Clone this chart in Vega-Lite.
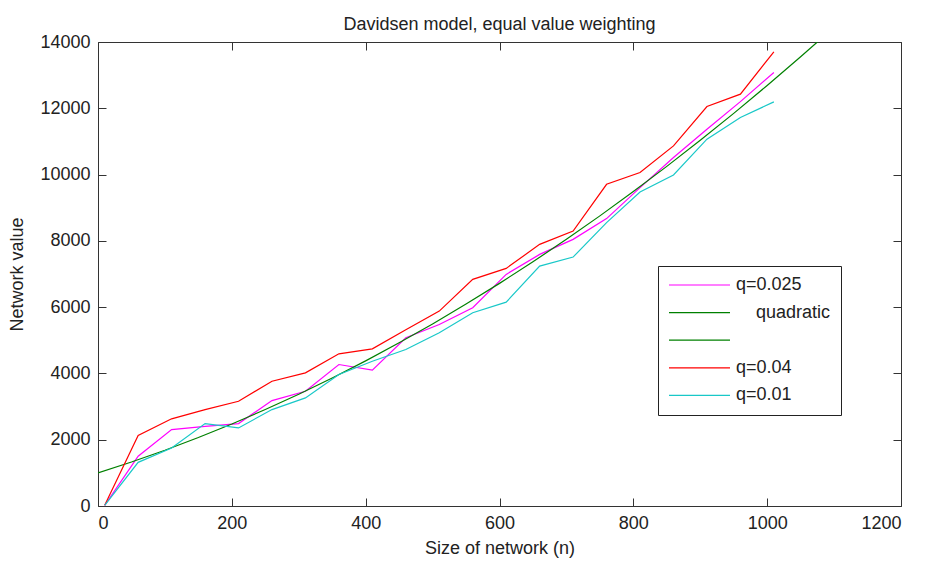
{
  "$schema": "https://vega.github.io/schema/vega-lite/v6.json",
  "width": 803,
  "height": 464,
  "autosize": {"type": "none"},
  "padding": {"left": 98, "top": 42, "right": 24, "bottom": 58},
  "background": "white",
  "title": {
    "text": "Davidsen model, equal value weighting",
    "fontSize": 18,
    "font": "Liberation Sans",
    "fontWeight": "normal",
    "color": "#222",
    "anchor": "middle",
    "baseline": "alphabetic",
    "offset": -15
  },
  "config": {
    "view": {"stroke": "#333", "strokeWidth": 1},
    "font": "Liberation Sans",
    "axis": {
      "domain": false,
      "grid": false,
      "tickColor": "#333",
      "tickSize": -8,
      "labelFontSize": 18,
      "labelColor": "#222",
      "labelPadding": 16,
      "format": "d",
      "titleFontSize": 18,
      "titleFontWeight": "normal",
      "titleColor": "#222"
    },
    "legend": {
      "orient": "none",
      "legendX": 560,
      "legendY": 224,
      "fillColor": "white",
      "strokeColor": "#222",
      "padding": 10,
      "cornerRadius": 0,
      "labelFontSize": 18,
      "labelColor": "#222",
      "labelFont": "Liberation Sans",
      "symbolType": "M-1.6,0H10.6",
      "symbolSize": 100,
      "symbolStrokeWidth": 1.2,
      "labelOffset": 50,
      "rowPadding": 9.6,
      "title": null
    }
  },
  "data": {
    "values": [
      {"series": "q=0.025", "n": 10, "value": 20},
      {"series": "q=0.025", "n": 60, "value": 1500},
      {"series": "q=0.025", "n": 110, "value": 2305},
      {"series": "q=0.025", "n": 160, "value": 2405},
      {"series": "q=0.025", "n": 210, "value": 2486},
      {"series": "q=0.025", "n": 260, "value": 3181},
      {"series": "q=0.025", "n": 310, "value": 3463},
      {"series": "q=0.025", "n": 360, "value": 4269},
      {"series": "q=0.025", "n": 410, "value": 4097},
      {"series": "q=0.025", "n": 460, "value": 5075},
      {"series": "q=0.025", "n": 510, "value": 5477},
      {"series": "q=0.025", "n": 560, "value": 5982},
      {"series": "q=0.025", "n": 610, "value": 6988},
      {"series": "q=0.025", "n": 660, "value": 7592},
      {"series": "q=0.025", "n": 710, "value": 8045},
      {"series": "q=0.025", "n": 760, "value": 8671},
      {"series": "q=0.025", "n": 810, "value": 9607},
      {"series": "q=0.025", "n": 860, "value": 10514},
      {"series": "q=0.025", "n": 910, "value": 11369},
      {"series": "q=0.025", "n": 960, "value": 12200},
      {"series": "q=0.025", "n": 1010, "value": 13081},
      {"series": "quadratic", "n": 0, "value": 1000},
      {"series": "quadratic", "n": 50, "value": 1328},
      {"series": "quadratic", "n": 100, "value": 1683},
      {"series": "quadratic", "n": 150, "value": 2065},
      {"series": "quadratic", "n": 200, "value": 2474},
      {"series": "quadratic", "n": 250, "value": 2910},
      {"series": "quadratic", "n": 300, "value": 3372},
      {"series": "quadratic", "n": 350, "value": 3862},
      {"series": "quadratic", "n": 400, "value": 4379},
      {"series": "quadratic", "n": 450, "value": 4923},
      {"series": "quadratic", "n": 500, "value": 5494},
      {"series": "quadratic", "n": 550, "value": 6092},
      {"series": "quadratic", "n": 600, "value": 6717},
      {"series": "quadratic", "n": 650, "value": 7369},
      {"series": "quadratic", "n": 700, "value": 8048},
      {"series": "quadratic", "n": 750, "value": 8754},
      {"series": "quadratic", "n": 800, "value": 9486},
      {"series": "quadratic", "n": 850, "value": 10247},
      {"series": "quadratic", "n": 900, "value": 11033},
      {"series": "quadratic", "n": 950, "value": 11847},
      {"series": "quadratic", "n": 1000, "value": 12688},
      {"series": "quadratic", "n": 1050, "value": 13556},
      {"series": "quadratic", "n": 1075, "value": 14000},
      {"series": "q=0.04", "n": 10, "value": 20},
      {"series": "q=0.04", "n": 60, "value": 2130},
      {"series": "q=0.04", "n": 110, "value": 2630},
      {"series": "q=0.04", "n": 160, "value": 2910},
      {"series": "q=0.04", "n": 210, "value": 3160},
      {"series": "q=0.04", "n": 260, "value": 3765},
      {"series": "q=0.04", "n": 310, "value": 4018},
      {"series": "q=0.04", "n": 360, "value": 4592},
      {"series": "q=0.04", "n": 410, "value": 4743},
      {"series": "q=0.04", "n": 460, "value": 5317},
      {"series": "q=0.04", "n": 510, "value": 5880},
      {"series": "q=0.04", "n": 560, "value": 6837},
      {"series": "q=0.04", "n": 610, "value": 7170},
      {"series": "q=0.04", "n": 660, "value": 7894},
      {"series": "q=0.04", "n": 710, "value": 8297},
      {"series": "q=0.04", "n": 760, "value": 9707},
      {"series": "q=0.04", "n": 810, "value": 10060},
      {"series": "q=0.04", "n": 860, "value": 10864},
      {"series": "q=0.04", "n": 910, "value": 12054},
      {"series": "q=0.04", "n": 960, "value": 12426},
      {"series": "q=0.04", "n": 1010, "value": 13704},
      {"series": "q=0.01", "n": 10, "value": 20},
      {"series": "q=0.01", "n": 60, "value": 1317},
      {"series": "q=0.01", "n": 110, "value": 1750},
      {"series": "q=0.01", "n": 160, "value": 2486},
      {"series": "q=0.01", "n": 210, "value": 2356},
      {"series": "q=0.01", "n": 260, "value": 2909},
      {"series": "q=0.01", "n": 310, "value": 3262},
      {"series": "q=0.01", "n": 360, "value": 3966},
      {"series": "q=0.01", "n": 410, "value": 4369},
      {"series": "q=0.01", "n": 460, "value": 4722},
      {"series": "q=0.01", "n": 510, "value": 5226},
      {"series": "q=0.01", "n": 560, "value": 5830},
      {"series": "q=0.01", "n": 610, "value": 6151},
      {"series": "q=0.01", "n": 660, "value": 7239},
      {"series": "q=0.01", "n": 710, "value": 7511},
      {"series": "q=0.01", "n": 760, "value": 8550},
      {"series": "q=0.01", "n": 810, "value": 9474},
      {"series": "q=0.01", "n": 860, "value": 9988},
      {"series": "q=0.01", "n": 910, "value": 11067},
      {"series": "q=0.01", "n": 960, "value": 11722},
      {"series": "q=0.01", "n": 1010, "value": 12194}
    ]
  },
  "layer": [
    {
      "mark": {"type": "line", "strokeWidth": 1.2, "clip": true},
      "encoding": {
        "x": {
          "field": "n",
          "type": "quantitative",
          "scale": {"domain": [0, 1200], "nice": false},
          "axis": {"values": [0, 200, 400, 600, 800, 1000, 1200], "title": "Size of network (n)", "titlePadding": 7}
        },
        "y": {
          "field": "value",
          "type": "quantitative",
          "scale": {"domain": [0, 14000], "nice": false},
          "axis": {"values": [0, 2000, 4000, 6000, 8000, 10000, 12000, 14000], "title": "Network value", "titlePadding": 13}
        },
        "color": {
          "field": "series",
          "type": "nominal",
          "scale": {
            "domain": ["q=0.025", "quadratic", "(unlabelled)", "q=0.04", "q=0.01"],
            "range": ["#ff00ff", "#008000", "#008000", "#ff0000", "#19c8c8"]
          },
          "legend": {
            "labelExpr": "datum.label == 'quadratic' ? '\u200b\u2007\u2007quadratic' : (datum.label == '(unlabelled)' ? '' : datum.label)"
          }
        }
      }
    },
    {
      "mark": {"type": "point", "opacity": 0},
      "encoding": {
        "x": {
          "field": "n",
          "type": "quantitative",
          "scale": {"domain": [0, 1200], "nice": false},
          "axis": {"orient": "top", "values": [0, 200, 400, 600, 800, 1000, 1200], "labels": false, "title": null}
        },
        "y": {
          "field": "value",
          "type": "quantitative",
          "scale": {"domain": [0, 14000], "nice": false},
          "axis": {"orient": "right", "values": [0, 2000, 4000, 6000, 8000, 10000, 12000, 14000], "labels": false, "title": null}
        }
      }
    }
  ],
  "resolve": {"axis": {"x": "independent", "y": "independent"}}
}
